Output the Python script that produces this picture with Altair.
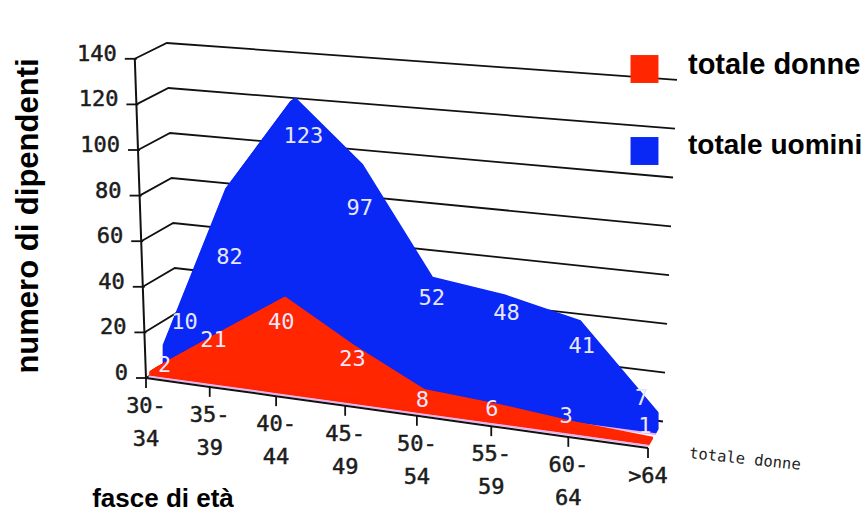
import altair as alt
import pandas as pd

# Age bands and headcounts per series
age_bands = ["30-\n34", "35-\n39", "40-\n44", "45-\n49", "50-\n54", "55-\n59", "60-\n64", ">64"]
totale_donne = [2, 21, 40, 23, 8, 6, 3, 1]
totale_uomini = [10, 82, 123, 97, 52, 48, 41, 7]
y_ticks = [0, 20, 40, 60, 80, 100, 120, 140]

W, H = 867, 513
RED = "#ff2600"
BLUE = "#0a28f5"
PINK = "#e8b4f0"
INK = "#111111"
MONO = "DejaVu Sans Mono"
HEAVY = "Liberation Sans"


def along(i):
    """Perspective position of category i along the floor, 0 to 1."""
    t = i / 7
    return 0.87 * t + 0.13 * t * t


def project(u, depth, v, lean=False):
    """Oblique projection of (along, depth, value) to screen units."""
    x = 146 + 502 * u + depth * (32 - 17 * u)
    if lean:
        x += v * (-0.08 + 0.18 * u)
    scale = 2.28 + 0.16 * u - 0.03 * depth * (1 - u)
    y = 378 + 70 * u - depth * (20 + 6.5 * u) - v * scale
    return x, y


def slices(values, near, far, steps=8):
    """Extruded area series as a stack of planes between two depths."""
    rows = []
    for s in range(steps + 1):
        d = near + (far - near) * s / steps
        for i, v in enumerate(values):
            u = along(i)
            x, top = project(u, d, v)
            _, base = project(u, d, 0)
            rows.append({"x": x, "top": top, "base": base, "plane": s})
    return pd.DataFrame(rows)


def floor_line(depth):
    rows = []
    for i in range(8):
        x, y = project(along(i), depth, 0)
        rows.append({"x": x, "y": y, "k": i})
    return pd.DataFrame(rows)


X = alt.X("x:Q", scale=alt.Scale(domain=[0, W]), axis=None)
Y = alt.Y("y:Q", scale=alt.Scale(domain=[0, H], reverse=True), axis=None)
YT = alt.Y("top:Q", scale=alt.Scale(domain=[0, H], reverse=True), axis=None)


def area_layer(df, color):
    return alt.Chart(df).mark_area(color=color, opacity=1).encode(
        x=X, y=YT, y2="base:Q", detail="plane:N"
    )


def poly(df, color, width):
    return alt.Chart(df).mark_line(color=color, strokeWidth=width).encode(
        x=X, y=Y, order="k:Q", detail="g:N"
    )


# Wall gridlines: side wall then back wall for every tick value
grid_rows = []
for v in y_ticks:
    for k, (u, d) in enumerate([(0, 0), (0, 1), (1, 1)]):
        x, y = project(u, d, v, lean=True)
        grid_rows.append({"x": x, "y": y, "k": k, "g": v})
grid = pd.DataFrame(grid_rows)

# Vertical axis with its outward ticks
axis_rows = []
for k, v in enumerate(y_ticks):
    x, y = project(0, 0, v, lean=True)
    axis_rows.append({"x": x, "y": y, "k": k, "g": "axis"})
y_axis = pd.DataFrame(axis_rows)
y_marks = pd.DataFrame(
    [{"x": r.x - 10, "x2": r.x + 2, "y": r.y} for r in y_axis.itertuples()]
)
y_labels = pd.DataFrame(
    [{"x": r.x - 18, "y": r.y - 5, "t": str(v)} for r, v in zip(y_axis.itertuples(), y_ticks)]
)

# Category ticks and labels along the front edge
front = floor_line(0).assign(g="front")
x_marks = front.assign(y2=front.y + 10)
x_labels = front.assign(y=front.y + 18, t=age_bands)

# Value labels sit inside the areas; each is shifted off the ridge by hand
red_shift = [(8, -2), (-6, 8), (-4, 26), (-1, 14), (-2, 11), (-6, 5), (-8, -5), (-8, -11)]
blue_shift = [(16, -19), (-1, 72), (8, 39), (-3, 44), (-1, 21), (1, 18), (1, 26), (-17, -14)]


def value_labels(values, depth, shifts):
    rows = []
    for i, v in enumerate(values):
        x, y = project(along(i), depth, v)
        rows.append({"x": x + shifts[i][0], "y": y + shifts[i][1], "t": str(v)})
    return pd.DataFrame(rows)


def text_layer(df, **kw):
    return alt.Chart(df).mark_text(**kw).encode(x=X, y=Y, text="t:N")


def one(x, y, t):
    return pd.DataFrame([{"x": x, "y": y, "t": t}])


layers = [
    poly(grid, INK, 1.8),
    poly(y_axis, INK, 2),
    alt.Chart(y_marks).mark_rule(color=INK, strokeWidth=1.8).encode(x=X, x2="x2:Q", y=Y),
    area_layer(slices(totale_uomini, 0.52, 0.7), BLUE),
    poly(floor_line(0.52).assign(g="b"), PINK, 2),
    area_layer(slices(totale_donne, 0.1, 0.33), RED),
    poly(floor_line(0.08).assign(g="r"), PINK, 2),
    poly(front, INK, 2),
    alt.Chart(x_marks).mark_rule(color=INK, strokeWidth=1.8).encode(x=X, y=Y, y2="y2:Q"),
    text_layer(y_labels, font=MONO, fontSize=22, align="right", baseline="middle",
               color="#1c1c1c", stroke="#1c1c1c", strokeWidth=0.5),
    text_layer(x_labels, font=MONO, fontSize=22, align="center", baseline="top",
               lineBreak="\n", lineHeight=33, color="#1c1c1c", stroke="#1c1c1c", strokeWidth=0.5),
    text_layer(value_labels(totale_donne, 0.33, red_shift), font=MONO, fontSize=22,
               align="center", baseline="middle", color="#f3e6ff"),
    text_layer(value_labels(totale_uomini, 0.7, blue_shift), font=MONO, fontSize=22,
               align="center", baseline="middle", color="#e6e6ff"),
    alt.Chart(pd.DataFrame([{"x": 644.5, "y": 69}])).mark_square(size=780, color=RED, opacity=1).encode(x=X, y=Y),
    alt.Chart(pd.DataFrame([{"x": 644.5, "y": 151}])).mark_square(size=780, color=BLUE, opacity=1).encode(x=X, y=Y),
    text_layer(one(688, 65, "totale donne"), font=HEAVY, fontWeight="bold", fontSize=29,
               align="left", baseline="middle", color="#000000"),
    text_layer(one(688, 146, "totale uomini"), font=HEAVY, fontWeight="bold", fontSize=28,
               align="left", baseline="middle", color="#000000"),
    text_layer(one(29, 216, "numero di dipendenti"), font=HEAVY, fontWeight="bold", fontSize=31,
               angle=270, align="center", baseline="middle", color="#000000"),
    text_layer(one(163, 499, "fasce di età"), font=HEAVY, fontWeight="bold", fontSize=26,
               align="center", baseline="middle", color="#000000"),
    text_layer(one(745, 459, "totale donne"), font=MONO, fontSize=15.5, angle=6,
               align="center", baseline="middle", color="#222222"),
]

chart = (
    alt.layer(*layers)
    .properties(width=W, height=H, padding=0, autosize="none", background="white")
    .configure_view(stroke=None)
)

chart.save("out.html", embed_options={"renderer": "svg", "actions": False})
